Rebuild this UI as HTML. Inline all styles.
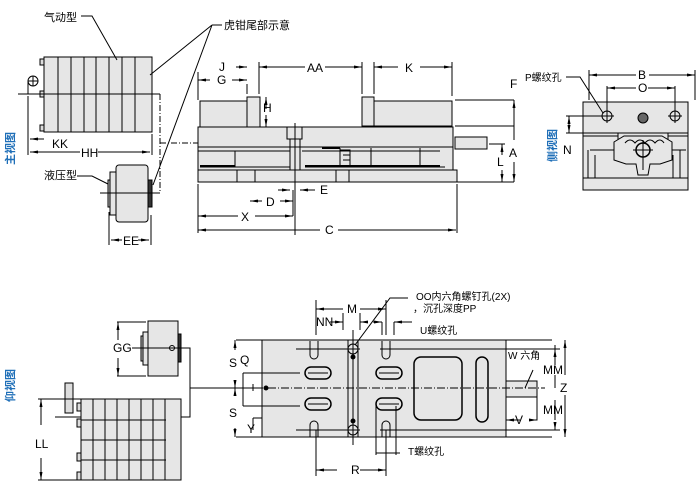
<!DOCTYPE html>
<html><head><meta charset="utf-8"><style>
html,body{margin:0;padding:0;background:#fff}
svg{display:block}
text{font-family:"Liberation Sans","Noto Sans CJK SC",sans-serif;font-size:11px;fill:#000}
.b{fill:#1f6fb8;font-weight:bold;font-size:11px}
.o{fill:#000;font-size:12px}
</style></head><body>
<svg width="698" height="489" viewBox="0 0 698 489" xmlns="http://www.w3.org/2000/svg">
<defs>
<marker id="a" viewBox="0 0 8 6" refX="8" refY="3" markerWidth="8" markerHeight="6" orient="auto-start-reverse"><path d="M0,1.5 L8,3 L0,4.5z" fill="#000"/></marker>
</defs>
<g stroke="#000" stroke-width="1" fill="none">
<!-- Air cylinder top-left -->
<rect x="44" y="57" width="108" height="75" fill="#e6e6e6"/>
<path d="M58,57V132M71,57V132M84,57V132M96,57V132M109,57V132M122,57V132M135,57V132"/>
<rect x="40" y="59" width="4" height="6" fill="#ddd"/><rect x="40" y="91" width="4" height="6" fill="#ddd"/><rect x="40" y="125" width="4" height="6" fill="#ddd"/>
<circle cx="33" cy="81" r="5"/><path d="M28,81H38M33,76V86M28,81V94"/>
<path d="M18,94H160"/>
<path d="M160,94V193H156" stroke-dasharray="6,2,1,2"/>
<path d="M160,143H198" stroke-dasharray="6,2,1,2"/>
<path d="M28,96V155M152,134V155"/>
<path d="M30,139H44" marker-start="url(#a)"/>
<path d="M30,152H80" marker-start="url(#a)" />
<path d="M98,152H150" marker-end="url(#a)"/>
<path d="M81,16H92L117,60"/>
<path d="M212,25H222M212,25L150,75M212,25L153,185"/>
<!-- hydraulic -->
<rect x="116" y="165" width="32" height="57" rx="3" fill="#e6e6e6"/>
<rect x="110" y="172" width="6" height="43" fill="#e6e6e6"/>
<rect x="108" y="180" width="2" height="27" fill="#ccc"/>
<rect x="148" y="180" width="4" height="27" fill="#333"/>
<path d="M77,176H92L108,184"/>
<path d="M100,193H156"/>
<path d="M109,212V245M151,215V245"/>
<path d="M122,240H111" marker-end="url(#a)"/><path d="M138,240H149" marker-end="url(#a)"/>

<!-- main vise -->
<rect x="198" y="170" width="259" height="12" fill="#e6e6e6"/>
<rect x="198" y="147" width="255" height="23" fill="#e6e6e6"/>
<rect x="198" y="127" width="255" height="20" fill="#e6e6e6"/>
<rect x="200" y="101" width="47" height="26" fill="#e6e6e6"/>
<rect x="247" y="97" width="13" height="30" fill="#e6e6e6"/>
<rect x="362" y="97" width="12" height="29" fill="#e6e6e6"/>
<rect x="374" y="101" width="78" height="25" fill="#e6e6e6"/>
<rect x="455" y="137" width="32" height="12" fill="#e6e6e6"/>
<path d="M198,151H290M302,151H440M235,151V167M200,167H290M305,167H445M340,148V166M371,148V167M420,148V167M237,170V182M255,170V182M336,170V182M349,170V182"/>
<path d="M200,166H235M305,166H440" stroke-width="2"/>
<rect x="287" y="127" width="15" height="12" fill="#e6e6e6"/>
<path d="M290,139V170M300,139V170"/>
<path d="M295,123V235"/>
<path d="M322,148H340" stroke-width="2"/>
<path d="M340,150H350V166M343,155H350M343,160H350"/>
<!-- dims main -->
<path d="M198,72V100M247,84V94M259,62V94M362,62V94M374,62V94M452,62V96"/>
<path d="M210,80H198" marker-end="url(#a)"/><path d="M232,80H247" marker-end="url(#a)"/>
<path d="M236,67H247" marker-end="url(#a)"/>
<path d="M259,67H305M325,67H362"/><path d="M270,67H259" marker-end="url(#a)"/><path d="M352,67H362" marker-end="url(#a)"/>
<path d="M374,67H398M420,67H452"/><path d="M385,67H374" marker-end="url(#a)"/><path d="M440,67H452" marker-end="url(#a)"/>
<path d="M266,97V109"/><path d="M266,109V97" marker-end="url(#a)"/><path d="M266,115V127" marker-end="url(#a)"/>
<path d="M455,100H514M455,126H514M489,144H505M457,182H514"/>
<path d="M514,100V140M514,162V182"/><path d="M514,110V100" marker-end="url(#a)"/><path d="M514,172V182" marker-end="url(#a)"/>
<path d="M502,144V155M502,170V182"/><path d="M502,152V144" marker-end="url(#a)"/><path d="M502,175V182" marker-end="url(#a)"/>
<path d="M198,184V233M457,184V233M293,190V216"/>
<path d="M278,190H290" marker-end="url(#a)"/><path d="M315,190H300" marker-end="url(#a)"/>
<path d="M250,201H262"/><path d="M280,201H293" marker-end="url(#a)"/><path d="M262,201H250" marker-end="url(#a)"/>
<path d="M198,216H238M255,216H293"/><path d="M210,216H198" marker-end="url(#a)"/><path d="M280,216H293" marker-end="url(#a)"/>
<path d="M198,230H320M338,230H456"/><path d="M210,230H198" marker-end="url(#a)"/><path d="M444,230H456" marker-end="url(#a)"/>

<!-- side view -->
<rect x="583" y="102" width="105" height="31" fill="#e6e6e6"/>
<rect x="583" y="133" width="105" height="45" fill="#e6e6e6"/>
<rect x="583" y="178" width="105" height="12" fill="#e6e6e6"/>
<path d="M583,136H618M668,136H688M618,133V150M668,133V150M588,150V178M595,155V178M680,150V178M673,155V178M618,150H590M668,150H686"/>
<path d="M614,142L624,136H662L672,142V160L660,164H650L648,175H638L636,164H626L614,160Z" fill="#e6e6e6"/>
<path d="M625,143Q630,137 635,143Q640,137 645,143Q650,137 655,143Q660,137 664,143"/>
<circle cx="607" cy="116" r="5"/><path d="M600,116H614M607,109V123"/>
<circle cx="675" cy="116" r="5"/><path d="M668,116H682M675,109V123"/>
<circle cx="643" cy="118" r="5" fill="#666"/>
<circle cx="643" cy="150" r="7" stroke-width="1.5" fill="#e6e6e6"/><path d="M633,150H653M643,140V170"/>
<path d="M589,70V100M695,70V100M607,86V110M675,86V110"/>
<path d="M591,75H636M649,75H693"/><path d="M600,75H589" marker-end="url(#a)"/><path d="M684,75H695" marker-end="url(#a)"/>
<path d="M609,88H636M648,88H673"/><path d="M618,88H607" marker-end="url(#a)"/><path d="M666,88H675" marker-end="url(#a)"/>
<path d="M566,116H600M566,133H587M569,116V133"/><path d="M569,125V116" marker-end="url(#a)"/><path d="M569,125V133" marker-end="url(#a)"/>
<path d="M566,77H580L603,113"/>

<!-- bottom left -->
<rect x="148" y="321" width="30" height="55" fill="#e6e6e6"/>
<rect x="143" y="332" width="5" height="33" fill="#e6e6e6"/>
<rect x="141" y="336" width="2" height="25" fill="#ccc"/>
<rect x="178" y="334" width="3" height="28" fill="#333"/>
<circle cx="172" cy="348" r="2.5"/>
<path d="M132,348H190V417H55M190,388H262"/>
<path d="M117,322H146M117,376H146"/><path d="M118,340V322" marker-end="url(#a)"/><path d="M118,358V376" marker-end="url(#a)"/>
<rect x="81" y="399" width="100" height="81" fill="#e6e6e6"/>
<path d="M93,399V480M105,399V480M117,399V480M129,399V480M141,399V480M153,399V480M165,399V480M81,420H166M81,440H166M81,460H166"/>
<rect x="65" y="383" width="8" height="30" fill="#ddd"/>
<rect x="77" y="403" width="4" height="8" fill="#ddd"/><rect x="77" y="419" width="4" height="8" fill="#ddd"/><rect x="77" y="453" width="4" height="8" fill="#ddd"/><rect x="77" y="472" width="4" height="8" fill="#ddd"/>
<path d="M38,399H81M38,480H81"/><path d="M41,425V399" marker-end="url(#a)"/><path d="M41,458V480" marker-end="url(#a)"/>

<!-- bottom view -->
<rect x="262" y="340" width="244" height="97" fill="#e6e6e6"/>
<rect x="506" y="381" width="31" height="16" fill="#e6e6e6"/>
<path d="M348,340V437M358,340V437"/>
<path d="M190,388H545" stroke-dasharray="8,2,1,2"/>
<circle cx="266" cy="388" r="2" fill="#000"/>
<path d="M310,341V355A4,4 0 0 0 318,355V341M382,341V355A4,4 0 0 0 390,355V341"/>
<path d="M310,437V425A4,4 0 0 1 318,425V437M382,437V425A4,4 0 0 1 390,425V437"/>
<circle cx="353" cy="349" r="5"/><circle cx="353" cy="430" r="5"/>
<circle cx="353" cy="357" r="2" fill="#000"/><circle cx="353" cy="421" r="2" fill="#000"/>
<path d="M353,330V445"/>
<g stroke-width="1.5"><rect x="305" y="367" width="26" height="12" rx="6"/><rect x="305" y="398" width="26" height="12" rx="6"/><rect x="376" y="367" width="26" height="12" rx="6"/><rect x="376" y="398" width="26" height="12" rx="6"/>
<rect x="414" y="357" width="48" height="63" rx="7"/><rect x="476" y="357" width="12" height="65" rx="6"/></g>
<path d="M308,373H328M308,404H328M379,373H399M379,404H399"/>
<path d="M296,349H360M380,349H560M296,430H360M380,430H560M505,340H552M505,437H552"/>
<path d="M236,340H262M236,437H262"/>
<path d="M235,350V340" marker-end="url(#a)"/><path d="M235,380V388" marker-end="url(#a)"/><path d="M235,396V388" marker-end="url(#a)"/><path d="M235,428V437" marker-end="url(#a)"/>
<path d="M243,373H300M243,406H300M243,373V406M253,391V384"/>
<path d="M253,418V430M253,418H262"/>
<path d="M316,430V476M386,430V476M376,406V455M396,406V455"/>
<path d="M318,470H337M360,470H386"/><path d="M330,470H316" marker-end="url(#a)"/><path d="M372,470H386" marker-end="url(#a)"/>
<path d="M376,453H400"/>
<path d="M316,300V335M386,300V335M343,313V330M360,313V330M382,322V335M394,322V335"/>
<path d="M318,309H343M360,309H386"/><path d="M328,309H316" marker-end="url(#a)"/><path d="M376,309H386" marker-end="url(#a)"/>
<path d="M330,322H343" marker-end="url(#a)"/><path d="M368,322H360" marker-end="url(#a)"/>
<path d="M373,322H382" marker-end="url(#a)"/><path d="M412,322H394" marker-end="url(#a)"/>
<path d="M555,345V365M555,375V388M555,400V420M555,425V430"/><path d="M555,365V349" marker-end="url(#a)"/><path d="M555,425V430" marker-end="url(#a)"/>
<path d="M565,340V375M565,395V437"/><path d="M565,350V340" marker-end="url(#a)"/><path d="M565,425V437" marker-end="url(#a)"/>
<path d="M530,420H537V397"/><path d="M520,420H506" marker-end="url(#a)"/><path d="M530,420H537" marker-end="url(#a)"/>
<path d="M533,370L525,388"/>
<path d="M408,298H390L355,345"/>
</g>
<!-- labels -->
<text x="44" y="21">气动型</text>
<text x="224" y="29">虎钳尾部示意</text>
<text x="52" y="148" class="o">KK</text>
<text x="81" y="157" class="o">HH</text>
<text x="44" y="179">液压型</text>
<text x="123" y="245" class="o">EE</text>
<text x="219" y="71" class="o">J</text>
<text x="217" y="84" class="o">G</text>
<text x="307" y="72" class="o">AA</text>
<text x="405" y="72" class="o">K</text>
<text x="263" y="112" class="o">H</text>
<text x="510" y="88" class="o">F</text>
<text x="509" y="157" class="o">A</text>
<text x="497" y="166" class="o">L</text>
<text x="320" y="194" class="o">E</text>
<text x="266" y="206" class="o">D</text>
<text x="241" y="221" class="o">X</text>
<text x="325" y="234" class="o">C</text>
<text x="525" y="81" style="font-size:10px">P螺纹孔</text>
<text x="638" y="79" class="o">B</text>
<text x="638" y="92" class="o">O</text>
<text x="563" y="154" class="o">N</text>
<text x="113" y="352" class="o">GG</text>
<text x="35" y="448" class="o">LL</text>
<text x="416" y="300" style="font-size:10px">OO内六角螺钉孔(2X)</text>
<text x="413" y="312" style="font-size:10px">，沉孔深度PP</text>
<text x="347" y="313" class="o">M</text>
<text x="316" y="326" class="o">NN</text>
<text x="420" y="334" style="font-size:10px">U螺纹孔</text>
<text x="229" y="367" class="o">S</text>
<text x="240" y="364" class="o">Q</text>
<text x="229" y="417" class="o">S</text>
<text x="247" y="433" class="o">Y</text>
<text x="508" y="359" style="font-size:10px">W 六角</text>
<text x="543" y="374" class="o">MM</text>
<text x="543" y="414" class="o">MM</text>
<text x="560" y="392" class="o">Z</text>
<text x="515" y="424" class="o">V</text>
<text x="408" y="455" style="font-size:10px">T螺纹孔</text>
<text x="351" y="474" class="o">R</text>
<text class="b" transform="translate(14,165) rotate(-90)">主视图</text>
<text class="b" transform="translate(556,162) rotate(-90)">侧视图</text>
<text class="b" transform="translate(14,402) rotate(-90)">仰视图</text>
</svg>
</body></html>
